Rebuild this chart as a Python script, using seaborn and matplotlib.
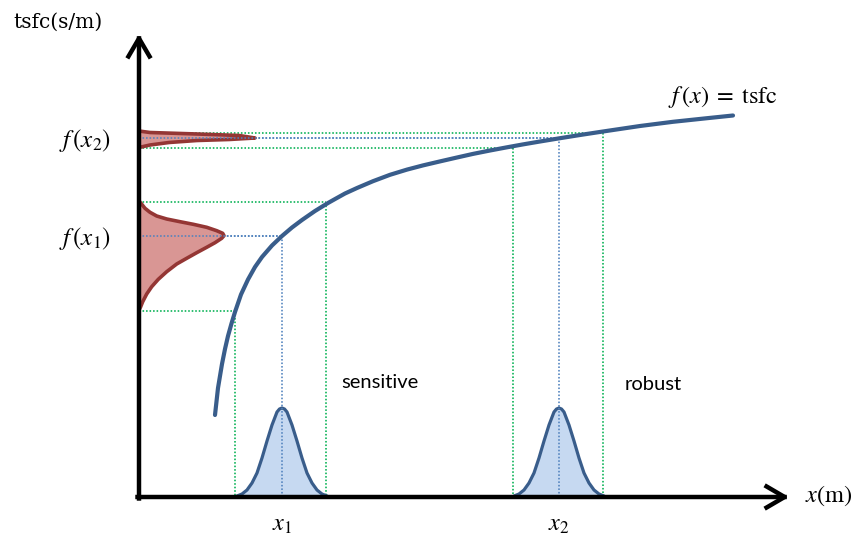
import numpy as np
import seaborn as sns
import matplotlib.pyplot as plt

# response curve f(x) = tsfc (origin at the axes corner)
curve_x = [76, 79, 83, 86, 89, 92.5, 96, 102, 109, 116, 123, 133, 143, 153, 163, 176, 189, 197,
           206, 218, 234, 251, 268, 284, 301, 318, 334, 351, 368, 384, 401, 421, 441, 464,
           501, 534, 568, 594]
curve_y = [82, 109, 133, 148, 161, 173.5, 185, 202.5, 217.5, 230, 240, 251.5, 261, 269.5, 277,
           286, 294, 298.5, 303.5, 309, 315.8, 322.2, 327.4, 331.6, 335.6, 339.5, 343.1, 346.5,
           349.7, 352.6, 355.5, 358.8, 362, 365.5, 371, 375.2, 378.8, 381.5]

# design points and the spread band around them
x_mid = [143, 420]
x_lo = [96, 374]
x_hi = [187, 464]
fx_mid = [261, 359]
fx_lo = [186, 349.5]
fx_hi = [295, 364.5]

# input distribution (same shape at x1 and x2): offset from mean and height
bell_dx = [-45, -40, -35, -30, -25, -20, -15, -10, -5, -2.5, 0, 2.5, 5, 10, 15, 20, 25, 30, 35, 40, 45]
bell_h = [1, 3, 7, 14, 24, 39, 56, 72, 85, 88, 89, 88, 85, 72, 56, 39, 24, 14, 7, 3, 1]

# output distributions on the tsfc axis: level and width
out1_y = [296, 293.7, 288.7, 284.7, 281, 278, 275.3, 272.7, 269.7, 266.3, 263.7, 261.3, 258.7,
          254.3, 249.7, 244.3, 238.7, 233, 225.3, 217.7, 210.3, 203, 195.3, 190.3, 187]
out1_w = [0, 2, 6, 11, 17.7, 27.7, 41, 54.3, 67.7, 77.7, 83.7, 85, 82.7,
          76, 67.7, 57.7, 47.7, 37.7, 27.7, 19.3, 12.7, 7.7, 3.7, 1.7, 0]
out2_y = [366, 364.5, 363, 361.5, 359, 357.5, 356.5, 354.5, 352, 349.5]
out2_w = [0, 11, 58, 100, 116, 90, 58, 30, 11, 0]

sns.set_theme(style="white")
plt.rcParams['mathtext.fontset'] = 'stix'
plt.rcParams['text.color'] = 'black'

blue = "#395D8B"
bell_fill = "#C6D9F1"
red = "#943634"
red_fill = "#D99694"
green = "#00B050"
dot_blue = "#4F81BD"

fig = plt.figure(figsize=(8.59, 5.35), dpi=100)
ax = fig.add_axes([0, 0, 1, 1])
ax.set_xlim(-139, 720)
ax.set_ylim(-38, 497)
ax.axis("off")

dots = (0, (1, 1.2))
for i in range(2):
    for xv, fv, c in [(x_lo[i], fx_lo[i], green), (x_mid[i], fx_mid[i], dot_blue), (x_hi[i], fx_hi[i], green)]:
        ax.plot([0, xv], [fv, fv], color=c, lw=1.15, ls=dots, zorder=1)
        ax.plot([xv, xv], [fv, 0], color=c, lw=1.15, ls=dots, zorder=1)

# bells on the x axis
for m in x_mid:
    bx = [m + d for d in bell_dx]
    ax.fill_between(bx, 0, bell_h, color=bell_fill, lw=0, zorder=2)
    sns.lineplot(x=bx, y=bell_h, ax=ax, color=blue, lw=2.3, zorder=3)
    ax.plot([m, m], [0, max(bell_h)], color=dot_blue, lw=1.15, ls=dots, zorder=4)

# distributions on the tsfc axis
for oy, ow in [(out1_y, out1_w), (out2_y, out2_w)]:
    ax.fill_betweenx(oy, 0, ow, color=red_fill, lw=0, zorder=2)
    sns.lineplot(x=ow, y=oy, ax=ax, orient="y", sort=False, color=red, lw=2.6, zorder=3)
for i in range(2):
    ax.plot([0, x_mid[i]], [fx_mid[i], fx_mid[i]], color=dot_blue, lw=1.15, ls=dots, zorder=4)

# the curve
sns.lineplot(x=curve_x, y=curve_y, ax=ax, sort=False, color=blue, lw=3.0, zorder=5)

# axes with arrows
arrow = dict(arrowstyle="->,head_length=0.65,head_width=0.38", lw=3.2, color="black",
             mutation_scale=20, shrinkA=0, shrinkB=0, capstyle="projecting")
ax.annotate("", xy=(0, 463), xytext=(0, -1.5), arrowprops=arrow, zorder=6)
ax.annotate("", xy=(650, 0), xytext=(-1.5, 0), arrowprops=arrow, zorder=6)

serif = "DejaVu Serif"
ax.text(-126, 475, "tsfc(s/m)", fontsize=14.5, family=serif, ha="left", va="center")
ax.text(-28, 357, r"$f\,(x_2)$", fontsize=18, ha="right", va="center")
ax.text(-28, 259, r"$f\,(x_1)$", fontsize=18, ha="right", va="center")
ax.text(x_mid[0], -27, r"$x_1$", fontsize=17.5, ha="center", va="center")
ax.text(x_mid[1], -27, r"$x_2$", fontsize=17.5, ha="center", va="center")
ax.text(666, 1, r"$x\mathrm{(m)}$", fontsize=17.5, ha="left", va="center")
ax.text(529, 400, r"$f\,(x)\;=\;\mathrm{tsfc}$", fontsize=17.5, ha="left", va="center")
ax.text(202, 115, "sensitive", fontsize=14.5, family="Lato", ha="left", va="center")
ax.text(486, 112, "robust", fontsize=14.5, family="Lato", ha="left", va="center")

fig.savefig("out.png", dpi=100)
